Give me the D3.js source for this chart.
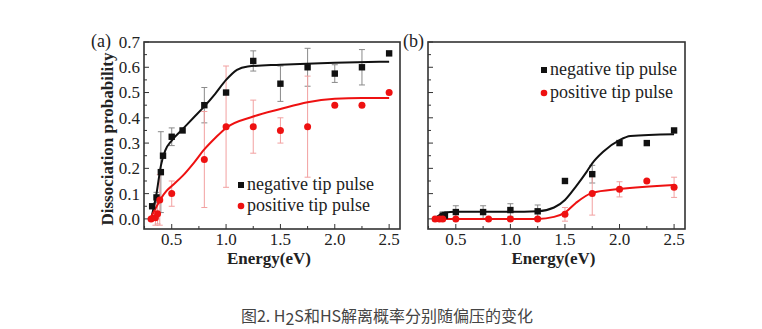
<!DOCTYPE html>
<html>
<head>
<meta charset="utf-8">
<script src="https://cdn.jsdelivr.net/npm/d3@7/dist/d3.min.js"></script>
<style>
  html, body { margin: 0; padding: 0; background: #fff; }
  svg { display: block; }
  .serif { font-family: "Liberation Serif", "DejaVu Serif", serif; }
  .cap { font-family: "Noto Sans CJK SC", "Noto Sans", sans-serif; }
</style>
</head>
<body>
<svg id="chart" width="762" height="329"></svg>
<script>
// ---- Panel (a): H2S ----
const energyNegA = [0.32, 0.36, 0.40, 0.42, 0.50, 0.60, 0.80, 1.00, 1.25, 1.50, 1.75, 2.00, 2.25, 2.50];
const probNegA   = [0.05, 0.085, 0.185, 0.25, 0.325, 0.35, 0.45, 0.50, 0.625, 0.535, 0.60, 0.575, 0.60, 0.655];
const errNegA    = [0, 0.02, 0.16, 0, 0.035, 0, 0.07, 0, 0.04, 0.07, 0.075, 0.035, 0.07, 0];

const energyPosA = [0.31, 0.35, 0.37, 0.39, 0.50, 0.80, 1.00, 1.25, 1.50, 1.75, 2.00, 2.25, 2.50];
const probPosA   = [0.0, 0.005, 0.02, 0.075, 0.10, 0.235, 0.365, 0.365, 0.35, 0.365, 0.45, 0.45, 0.50];
const errPosA    = [0, 0.03, 0.04, 0.10, 0.05, 0.19, 0.24, 0.105, 0.05, 0.20, 0, 0, 0];

const fitNegAx = [0.31, 0.36, 0.40, 0.44, 0.50, 0.60, 0.70, 0.80, 0.90, 1.00, 1.10, 1.20, 1.50, 2.00, 2.50];
const fitNegAy = [0.0, 0.10, 0.21, 0.27, 0.31, 0.355, 0.40, 0.445, 0.495, 0.55, 0.59, 0.603, 0.61, 0.618, 0.622];
const fitPosAx = [0.30, 0.35, 0.40, 0.45, 0.50, 0.60, 0.70, 0.80, 0.90, 1.00, 1.25, 1.50, 1.75, 2.00, 2.25, 2.50];
const fitPosAy = [0.0, 0.04, 0.08, 0.11, 0.13, 0.17, 0.22, 0.275, 0.32, 0.36, 0.405, 0.435, 0.462, 0.475, 0.478, 0.478];

// ---- Panel (b): HS ----
const energyNegB = [0.38, 0.40, 0.50, 0.75, 1.00, 1.25, 1.50, 1.75, 2.00, 2.25, 2.50];
const probNegB   = [0.013, 0.013, 0.027, 0.027, 0.035, 0.03, 0.15, 0.177, 0.30, 0.30, 0.35];
const errNegB    = [0.015, 0.015, 0.025, 0.025, 0.025, 0.025, 0, 0.035, 0, 0, 0];

const energyPosB = [0.31, 0.35, 0.38, 0.50, 0.80, 1.00, 1.25, 1.50, 1.75, 2.00, 2.25, 2.50];
const probPosB   = [0.0, 0.0, 0.0, 0.0, 0.0, 0.0, 0.0, 0.018, 0.10, 0.117, 0.15, 0.125];
const errPosB    = [0, 0, 0, 0, 0, 0, 0, 0.027, 0.085, 0.03, 0, 0.04];

const fitNegBx = [0.30, 0.35, 0.40, 0.50, 1.00, 1.25, 1.40, 1.50, 1.60, 1.70, 1.75, 1.85, 2.00, 2.10, 2.50];
const fitNegBy = [0.0, 0.015, 0.025, 0.028, 0.028, 0.03, 0.045, 0.075, 0.128, 0.187, 0.22, 0.266, 0.312, 0.328, 0.335];
const fitPosBx = [0.30, 0.50, 1.00, 1.25, 1.40, 1.50, 1.60, 1.75, 2.00, 2.50];
const fitPosBy = [0.0, 0.0, 0.0, 0.0, 0.008, 0.025, 0.063, 0.103, 0.118, 0.134];

const xTicks = [0.5, 1.0, 1.5, 2.0, 2.5];
const yTicks = [0.0, 0.1, 0.2, 0.3, 0.4, 0.5, 0.6, 0.7];
const legendLabels = ["negative tip pulse", "positive tip pulse"];
const panelLabels = ["(a)", "(b)"];
const xTitle = "Energy(eV)";
const yTitle = "Dissociation probability";

const svg = d3.select("#chart");
const BLACK = "#111";
const RED = "#ee1111";
const INK = "#222";

const plotTop = 42, plotBottom = 229;
const y = d3.scaleLinear().domain([-0.04, 0.7]).range([plotBottom, plotTop]);

function zip(xs, ys) { return xs.map((v, i) => [v, ys[i]]); }

function drawPanel(opts) {
  const x = d3.scaleLinear().domain([0.245, 2.6]).range([opts.left, opts.right]);
  const g = svg.append("g");

  // inward ticks, major and minor
  const tickX = d3.range(0.25, 2.6, 0.25);
  g.selectAll(".xt").data(tickX).join("line")
    .attr("x1", d => x(d)).attr("x2", d => x(d))
    .attr("y1", plotBottom).attr("y2", d => plotBottom - (Math.abs(d * 2 - Math.round(d * 2)) < 1e-6 ? 5 : 3))
    .attr("stroke", "#333").attr("stroke-width", 1);
  const tickY = d3.range(0, 0.701, 0.05);
  g.selectAll(".yt").data(tickY).join("line")
    .attr("y1", d => y(d)).attr("y2", d => y(d))
    .attr("x1", opts.left).attr("x2", (d, i) => opts.left + (i % 2 === 0 ? 5 : 3))
    .attr("stroke", "#333").attr("stroke-width", 1);

  // frame
  g.append("rect").attr("x", opts.left).attr("y", plotTop)
    .attr("width", opts.right - opts.left).attr("height", plotBottom - plotTop)
    .attr("fill", "none").attr("stroke", "#333").attr("stroke-width", 1.6);

  // x tick labels
  g.selectAll(".xl").data(xTicks).join("text")
    .attr("class", "serif")
    .attr("x", d => x(d)).attr("y", plotBottom + 16)
    .attr("text-anchor", "middle")
    .attr("font-size", 17).attr("fill", INK)
    .text(d => d3.format(".1f")(d));

  if (opts.yLabels) {
    g.selectAll(".yl").data(yTicks).join("text")
      .attr("class", "serif")
      .attr("x", opts.left - 4).attr("y", d => y(d))
      .attr("dy", "0.35em").attr("text-anchor", "end")
      .attr("font-size", 17).attr("fill", INK)
      .text(d => d3.format(".1f")(d));
  }

  // x title
  g.append("text").attr("class", "serif")
    .attr("x", (opts.left + opts.right) / 2 - 3).attr("y", 264)
    .attr("text-anchor", "middle")
    .attr("font-size", 17).attr("font-weight", "bold").attr("fill", INK)
    .text(xTitle);

  // panel label
  g.append("text").attr("class", "serif")
    .attr("x", opts.labelX).attr("y", plotTop + 5)
    .attr("font-size", 18).attr("fill", INK)
    .text(opts.label);

  const line = d3.line().x(d => x(d[0])).y(d => y(d[1])).curve(d3.curveMonotoneX);

  // error bars
  function errorBars(xs, ys, es, color) {
    const rows = xs.map((v, i) => ({ x: v, y: ys[i], e: es[i] })).filter(d => d.e > 0);
    const eg = g.append("g").attr("stroke", color).attr("stroke-width", 1);
    eg.selectAll(".v").data(rows).join("line")
      .attr("x1", d => x(d.x)).attr("x2", d => x(d.x))
      .attr("y1", d => y(d.y - d.e)).attr("y2", d => y(d.y + d.e));
    eg.selectAll(".c1").data(rows).join("line")
      .attr("x1", d => x(d.x) - 3).attr("x2", d => x(d.x) + 3)
      .attr("y1", d => y(d.y + d.e)).attr("y2", d => y(d.y + d.e));
    eg.selectAll(".c2").data(rows).join("line")
      .attr("x1", d => x(d.x) - 3).attr("x2", d => x(d.x) + 3)
      .attr("y1", d => y(d.y - d.e)).attr("y2", d => y(d.y - d.e));
  }
  errorBars(opts.negX, opts.negY, opts.negE, "#8a8a8a");
  errorBars(opts.posX, opts.posY, opts.posE, "#f2a0a0");

  // fitted curves
  g.append("path").datum(zip(opts.fitNegX, opts.fitNegY))
    .attr("d", line).attr("fill", "none").attr("stroke", BLACK).attr("stroke-width", 2);
  g.append("path").datum(zip(opts.fitPosX, opts.fitPosY))
    .attr("d", line).attr("fill", "none").attr("stroke", RED).attr("stroke-width", 2);

  // markers
  g.selectAll(".sq").data(zip(opts.negX, opts.negY)).join("rect")
    .attr("x", d => x(d[0]) - 3.2).attr("y", d => y(d[1]) - 3.2)
    .attr("width", 6.4).attr("height", 6.4).attr("fill", BLACK);
  g.selectAll(".ci").data(zip(opts.posX, opts.posY)).join("circle")
    .attr("cx", d => x(d[0])).attr("cy", d => y(d[1])).attr("r", 3.5).attr("fill", RED);

  // legend
  const lg = g.append("g").attr("class", "serif").attr("font-size", 18).attr("fill", INK);
  lg.append("rect").attr("x", opts.legX - 3).attr("y", opts.legY - 3).attr("width", 6).attr("height", 6).attr("fill", BLACK);
  lg.append("text").attr("x", opts.legX + 6).attr("y", opts.legY).attr("dy", "0.3em").text(legendLabels[0]);
  lg.append("circle").attr("cx", opts.legX).attr("cy", opts.legY + opts.legGap).attr("r", 3.3).attr("fill", RED);
  lg.append("text").attr("x", opts.legX + 6).attr("y", opts.legY + opts.legGap).attr("dy", "0.3em").text(legendLabels[1]);
}

drawPanel({
  left: 144, right: 400, yLabels: true, label: panelLabels[0], labelX: 91,
  negX: energyNegA, negY: probNegA, negE: errNegA,
  posX: energyPosA, posY: probPosA, posE: errPosA,
  fitNegX: fitNegAx, fitNegY: fitNegAy, fitPosX: fitPosAx, fitPosY: fitPosAy,
  legX: 241, legY: 185, legGap: 21
});

drawPanel({
  left: 428, right: 685, yLabels: false, label: panelLabels[1], labelX: 403,
  negX: energyNegB, negY: probNegB, negE: errNegB,
  posX: energyPosB, posY: probPosB, posE: errPosB,
  fitNegX: fitNegBx, fitNegY: fitNegBy, fitPosX: fitPosBx, fitPosY: fitPosBy,
  legX: 544, legY: 70, legGap: 23
});

// y title
svg.append("text").attr("class", "serif")
  .attr("transform", "translate(107,139) rotate(-90)")
  .attr("text-anchor", "middle").attr("dy", "0.35em")
  .attr("font-size", 17).attr("font-weight", "bold").attr("fill", INK)
  .text(yTitle);

// caption
const cap = svg.append("text").attr("class", "cap")
  .attr("x", 387).attr("y", 322).attr("text-anchor", "middle")
  .attr("font-size", 16).attr("fill", "#444");
cap.append("tspan").text("图2. H");
cap.append("tspan").attr("dy", 3).text("2");
cap.append("tspan").attr("dy", -3).text("S和HS解离概率分别随偏压的变化");
</script>
</body>
</html>
